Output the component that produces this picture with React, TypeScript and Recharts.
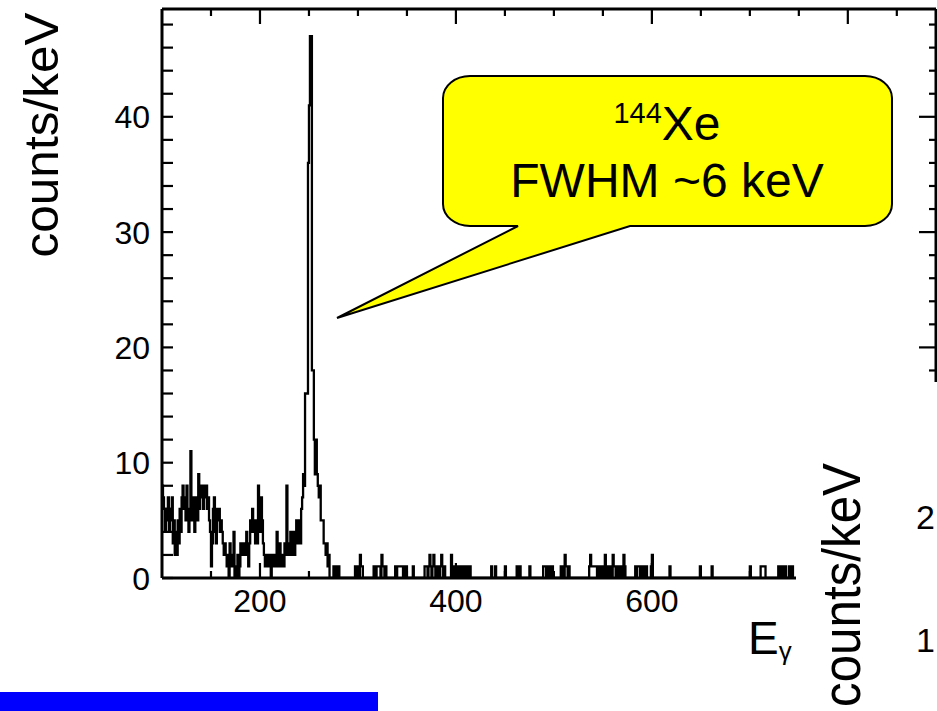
import { ComposedChart, Line, XAxis, YAxis } from "recharts";

// counts/keV per 1 keV bin
// 100..242 keV: low-energy background
const bgLow = [
  8, 7, 6, 4, 6, 5, 7, 4, 5, 6,
  7, 3, 5, 2, 4, 2, 5, 3, 6, 4,
  7, 8, 6, 7, 5, 8, 6, 4, 5, 11,
  6, 5, 7, 4, 6, 7, 5, 9, 6, 8,
  7, 8, 6, 8, 7, 8, 6, 7, 5, 4,
  1, 3, 6, 7, 4, 3, 6, 5, 6, 4,
  5, 4, 3, 2, 3, 2, 1, 2, 0, 3,
  1, 2, 1, 4, 0, 1, 0, 2, 0, 1,
  3, 2, 3, 2, 3, 2, 4, 3, 1, 3,
  5, 4, 6, 5, 4, 3, 5, 3, 8, 6,
  4, 7, 5, 3, 2, 1, 2, 1, 1, 2,
  1, 0, 2, 1, 1, 2, 1, 4, 2, 1,
  3, 1, 2, 2, 1, 3, 2, 8, 2, 3,
  2, 4, 2, 3, 4, 2, 3, 5, 3, 4,
  5, 3, 6,
];

// 243..270 keV: the 144Xe line
const peak = [7, 9, 8, 16, 16, 16, 36, 41, 47, 47, 18, 18, 12, 9, 12, 9, 8, 7, 8, 5, 5, 5, 3, 3, 2, 3, 1, 2];

// 271..744 keV: non-empty bins only [keV, counts/keV]
const tailHits: [number, number][] = [
  [275, 1], [277, 1], [279, 1], [280, 1],
  [297, 1], [299, 1], [300, 1], [302, 2], [303, 1], [304, 1],
  [316, 1], [317, 1], [319, 1], [320, 1], [321, 1], [322, 1], [324, 2], [325, 1], [326, 1], [328, 1],
  [338, 1], [340, 1], [341, 1], [342, 1], [343, 1], [344, 1], [345, 1], [348, 1], [349, 1],
  [356, 1],
  [368, 1], [369, 1], [370, 1], [372, 1], [373, 2], [374, 1], [376, 1], [377, 2], [378, 1], [380, 1],
  [382, 1], [384, 1], [385, 2], [386, 1], [388, 1],
  [395, 2], [396, 1], [398, 1], [400, 1], [402, 1], [404, 1], [406, 1], [408, 1], [410, 1], [412, 1], [414, 1],
  [436, 1], [440, 1], [450, 1], [462, 1], [465, 1], [475, 1],
  [489, 1], [490, 1], [491, 1], [493, 1], [494, 1], [496, 1], [498, 1],
  [507, 1], [509, 1], [511, 2], [512, 1], [513, 1], [515, 1],
  [536, 1], [537, 2], [538, 1], [539, 1], [540, 1], [541, 1], [542, 1], [543, 1], [545, 1], [548, 1],
  [550, 1], [552, 2], [553, 1], [556, 1], [558, 1], [560, 2], [561, 1], [562, 1], [564, 1], [566, 1],
  [568, 1], [569, 1], [571, 2], [572, 1],
  [583, 1], [585, 1], [586, 1], [587, 1], [589, 1], [590, 1], [592, 1], [594, 1], [599, 1], [600, 2],
  [618, 1], [649, 1], [661, 1],
  [700, 1], [711, 1], [712, 1], [713, 1], [714, 1], [715, 1],
  [729, 1], [730, 1], [733, 1], [736, 1], [740, 1], [743, 1],
];

const firstBin = 100;
const lastBin = 744;

const xTicks = [150, 200, 250, 300, 350, 400, 450, 500, 550, 600, 650, 700, 750, 800, 850];
const yTicks = [0, 2, 4, 6, 8, 10, 12, 14, 16, 18, 20, 22, 24, 26, 28, 30, 32, 34, 36, 38, 40, 42, 44, 46, 48];

// histogram table, one row per bin low edge (+ closing edge for the step line)
const tailMap = new Map(tailHits);
const hist: { e: number; v: number }[] = [];
for (let e = firstBin; e <= lastBin; e++) {
  let v = 0;
  if (e - firstBin < bgLow.length) v = bgLow[e - firstBin];
  else if (e - 243 < peak.length) v = peak[e - 243];
  else v = tailMap.get(e) ?? 0;
  hist.push({ e, v });
}
hist.push({ e: lastBin + 1, v: hist[hist.length - 1].v });

const FONT = "'Liberation Sans', Arial, Helvetica, sans-serif";

// frame of the pad
const W = 937;
const H = 711;
const M_TOP = 8;
const X_AXIS_H = 133;
const Y_AXIS_W = 162;
const PLOT_L = Y_AXIS_W;
const PLOT_T = M_TOP + 1;
const PLOT_W = W - Y_AXIS_W - 1;
const PLOT_H = H - X_AXIS_H - M_TOP - 1;
const X_MIN = 100;
const X_MAX = 890;
const Y_MAX = 49.35;

// same linear mapping as the chart axes, used for the inward frame ticks
const px = (e: number) => PLOT_L + ((e - X_MIN) / (X_MAX - X_MIN)) * PLOT_W;
const py = (v: number) => PLOT_T + ((Y_MAX - v) / Y_MAX) * PLOT_H;

const BottomLabel = (p: any) =>
  p.payload.value % 200 === 0 ? (
    <text x={p.x} y={p.y + 34} textAnchor="middle" fontSize={32} fontFamily={FONT} fill="#000">
      {p.payload.value}
    </text>
  ) : (
    <g />
  );

const LeftLabel = (p: any) =>
  p.payload.value % 10 === 0 ? (
    <text x={p.x - 12} y={p.y + 11.5} textAnchor="end" fontSize={32} fontFamily={FONT} fill="#000">
      {p.payload.value}
    </text>
  ) : (
    <g />
  );

const Ticks = () => {
  const bottom = PLOT_T + PLOT_H;
  const right = PLOT_L + PLOT_W;
  return (
    <g stroke="#000" strokeWidth={2.2}>
      {xTicks.map((t) => {
        const major = t % 200 === 0;
        const x = px(t);
        return (
          <g key={`x${t}`}>
            <line x1={x} x2={x} y1={bottom} y2={bottom - (major ? 15 : 7)} />
            <line x1={x} x2={x} y1={PLOT_T} y2={PLOT_T + (major ? 15 : 7)} />
          </g>
        );
      })}
      {yTicks.map((t) => {
        const major = t % 10 === 0;
        const y = py(t);
        return (
          <g key={`y${t}`}>
            <line x1={PLOT_L} x2={PLOT_L + 11} y1={y} y2={y} />
            <line x1={right} x2={right - (major ? 17 : 7)} y1={y} y2={y} />
          </g>
        );
      })}
    </g>
  );
};

export default function App() {
  return (
    <div style={{ position: "absolute", left: 0, top: 0, width: W, height: H, background: "#fff", overflow: "hidden" }}>
      <ComposedChart width={W} height={H} data={hist} margin={{ top: M_TOP, right: 0, bottom: 0, left: 0 }}>
        <XAxis
          xAxisId="b"
          dataKey="e"
          type="number"
          domain={[X_MIN, X_MAX]}
          allowDataOverflow
          ticks={xTicks}
          interval={0}
          height={X_AXIS_H}
          tickSize={0}
          tickMargin={0}
          axisLine={{ stroke: "#000", strokeWidth: 3 }}
          tick={BottomLabel}
        />
        <XAxis
          xAxisId="t"
          orientation="top"
          dataKey="e"
          type="number"
          domain={[X_MIN, X_MAX]}
          allowDataOverflow
          ticks={xTicks}
          height={1}
          tickSize={0}
          axisLine={{ stroke: "#000", strokeWidth: 3 }}
          tick={false}
        />
        <YAxis
          yAxisId="l"
          type="number"
          domain={[0, Y_MAX]}
          allowDataOverflow
          ticks={yTicks}
          interval={0}
          width={Y_AXIS_W}
          tickSize={0}
          tickMargin={0}
          axisLine={{ stroke: "#000", strokeWidth: 3 }}
          tick={LeftLabel}
        />
        <YAxis
          yAxisId="r"
          orientation="right"
          type="number"
          domain={[0, Y_MAX]}
          allowDataOverflow
          ticks={yTicks}
          width={1}
          tickSize={0}
          axisLine={{ stroke: "#000", strokeWidth: 3 }}
          tick={false}
        />
        <Line
          xAxisId="t"
          yAxisId="r"
          dataKey="v"
          stroke="none"
          dot={false}
          activeDot={false}
          isAnimationActive={false}
        />
        <Line
          xAxisId="b"
          yAxisId="l"
          type="stepAfter"
          dataKey="v"
          stroke="#000"
          strokeWidth={2.3}
          dot={false}
          activeDot={false}
          isAnimationActive={false}
        />
      </ComposedChart>

      <svg width={W} height={H} style={{ position: "absolute", left: 0, top: 0, pointerEvents: "none" }}>
        <Ticks />

        <text
          transform="translate(58,135) rotate(-90)"
          textAnchor="middle"
          fontSize={48}
          fontFamily={FONT}
          textLength={245}
          lengthAdjust="spacingAndGlyphs"
        >
          counts/keV
        </text>

        <path
          d="M470 76 H865 A27 22 0 0 1 892 98 V204 A27 22 0 0 1 865 226 H630 L337 318 L518 226 H470 A27 22 0 0 1 443 204 V98 A27 22 0 0 1 470 76 Z"
          fill="#ffff00"
          stroke="#000"
          strokeWidth={2}
        />
        <text x={667} y={140} textAnchor="middle" fontFamily={FONT} fill="#000">
          <tspan fontSize={29} dy={-17}>144</tspan>
          <tspan fontSize={48} dy={17}>Xe</tspan>
        </text>
        <text x={667} y={197} textAnchor="middle" fontSize={48} fontFamily={FONT} fill="#000">
          FWHM ~6 keV
        </text>

        <text x={748} y={654} fontSize={46} fontFamily={FONT} fill="#000">
          E<tspan fontSize={26} dy={6}>γ</tspan>
        </text>

        {/* the next slide plot overlapping the lower right corner */}
        <rect x={796} y={382} width={141} height={329} fill="#fff" />
        <text
          transform="translate(860,585) rotate(-90)"
          textAnchor="middle"
          fontSize={54}
          fontFamily={FONT}
          textLength={244}
          lengthAdjust="spacingAndGlyphs"
        >
          counts/keV
        </text>
        <text x={935} y={529} textAnchor="end" fontSize={34} fontFamily={FONT}>2</text>
        <text x={935} y={652} textAnchor="end" fontSize={34} fontFamily={FONT}>1</text>

        <rect x={0} y={692} width={378} height={19} fill="#0000ff" />
      </svg>
    </div>
  );
}
